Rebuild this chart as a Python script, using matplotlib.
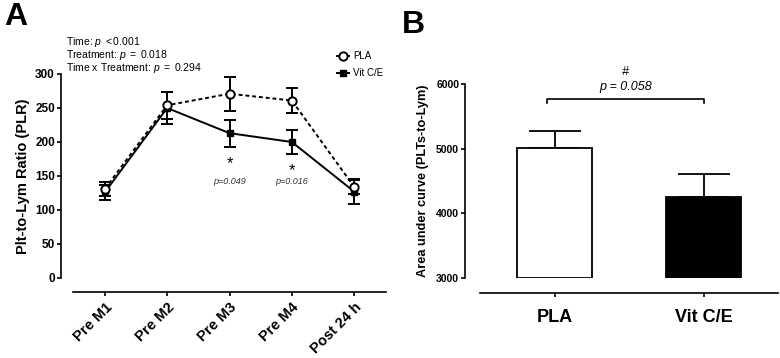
import matplotlib.pyplot as plt
from matplotlib.lines import Line2D

# Panel A data
timepoints = ['Pre M1', 'Pre M2', 'Pre M3', 'Pre M4', 'Post 24 h']
pla_mean = [131, 254, 271, 261, 134]
pla_err = [10, 20, 25, 18, 10]
vit_mean = [126, 250, 213, 200, 127]
vit_err = [11, 23, 20, 18, 18]

# Panel B data
groups = ['PLA', 'Vit C/E']
auc_mean = [5010, 4250]
auc_err = [270, 360]

plt.rcParams['font.family'] = ['Liberation Sans', 'DejaVu Sans']
plt.rcParams['mathtext.fontset'] = 'custom'
plt.rcParams['mathtext.rm'] = 'Liberation Sans'
plt.rcParams['mathtext.it'] = 'Liberation Sans:italic'

fig = plt.figure(figsize=(7.8, 3.58), dpi=100)

# ---- Panel A ----
axA = fig.add_axes([73 / 780, 1 - 278 / 358, (386 - 73) / 780, (278 - 74) / 358])
# spine offsets first: set_position resets the ticks
axA.spines['top'].set_visible(False)
axA.spines['right'].set_visible(False)
axA.spines['left'].set_position(('outward', 9))
axA.spines['bottom'].set_position(('outward', 10))
axA.spines['left'].set_linewidth(1.2)
axA.spines['bottom'].set_linewidth(1.2)

x = list(range(len(timepoints)))
axA.errorbar(x, pla_mean, yerr=pla_err, color='black', linestyle=(0, (2, 1.5)), lw=1.4,
             marker='o', markersize=6, markerfacecolor='white', markeredgewidth=1.4,
             capsize=4.5, elinewidth=1.4, capthick=1.4, zorder=3)
axA.errorbar(x, vit_mean, yerr=vit_err, color='black', linestyle='-', lw=1.4,
             marker='s', markersize=5, capsize=4.5, elinewidth=1.4, capthick=1.4,
             zorder=2)
axA.set_xlim(-0.51, 4.51)
axA.set_ylim(0, 300)
axA.tick_params(axis='y', length=3, width=1.2, pad=1)
axA.tick_params(axis='x', length=3, width=1.2, pad=3)
axA.set_yticks([0, 50, 100, 150, 200, 250, 300])
axA.set_yticklabels(['0', '50', '100', '150', '200', '250', '300'], fontsize=8.5, fontweight='bold')
axA.set_xticks(x)
axA.set_xticklabels(timepoints, rotation=45, ha='right', rotation_mode='anchor',
                    fontsize=10.5, fontweight='bold')
axA.set_ylabel('Plt-to-Lym Ratio (PLR)', fontsize=10.5, fontweight='bold', labelpad=4)

axA.text(2, 168, '*', ha='center', va='center', fontsize=12)
axA.text(3, 158, '*', ha='center', va='center', fontsize=12)
axA.text(2, 142, 'p=0.049', ha='center', va='center', fontsize=6.5, style='italic', color='#333333')
axA.text(3, 142, 'p=0.016', ha='center', va='center', fontsize=6.5, style='italic', color='#333333')

handles = [
    Line2D([], [], color='black', lw=1.4, marker='o', markersize=6,
           markerfacecolor='white', markeredgewidth=1.4),
    Line2D([], [], color='black', lw=1.4, marker='s', markersize=5),
]
axA.legend(handles, ['PLA', 'Vit C/E'], loc='upper left', bbox_to_anchor=(0.815, 1.155),
           frameon=False, fontsize=7, handlelength=1.2, handletextpad=0.5,
           labelspacing=0.75, numpoints=1)

fig.text(66 / 780, 1 - 42 / 358, r'Time: $\it{p\ <0.001}$', fontsize=7.5, va='center')
fig.text(66 / 780, 1 - 55 / 358, r'Treatment: $\it{p\ =\ 0.018}$', fontsize=7.5, va='center')
fig.text(66 / 780, 1 - 68 / 358, r'Time x Treatment: $\it{p\ =\ 0.294}$', fontsize=7.5, va='center')

fig.text(4 / 780, 1 - 17 / 358, 'A', fontsize=23, fontweight='bold', va='center')
fig.text(402 / 780, 1 - 25 / 358, 'B', fontsize=23, fontweight='bold', va='center')

# ---- Panel B ----
axB = fig.add_axes([480 / 780, 1 - 278 / 358, (778 - 480) / 780, (278 - 84) / 358])
axB.spines['top'].set_visible(False)
axB.spines['right'].set_visible(False)
axB.spines['left'].set_position(('outward', 11))
axB.spines['bottom'].set_position(('outward', 11))
axB.spines['left'].set_linewidth(1.2)
axB.spines['bottom'].set_linewidth(1.2)

xb = [0, 1]
base = 3000
heights = [m - base for m in auc_mean]
axB.bar(xb, heights, bottom=base, width=0.5, color=['white', 'black'],
        edgecolor='black', linewidth=1.3, zorder=2)
axB.errorbar(xb, auc_mean, yerr=[[0, 0], auc_err], fmt='none', ecolor='black',
             elinewidth=1.3, capsize=19, capthick=1.3, zorder=1)
axB.set_xlim(-0.5, 1.5)
axB.set_ylim(3000, 6000)
axB.tick_params(axis='y', length=3, width=1.2, pad=1)
axB.tick_params(axis='x', length=3, width=1.2, pad=8)
axB.set_yticks([3000, 4000, 5000, 6000])
axB.set_yticklabels(['3000', '4000', '5000', '6000'], fontsize=7.5, fontweight='bold')
axB.set_xticks(xb)
axB.set_xticklabels(groups, fontsize=13, fontweight='bold')
axB.set_ylabel('Area under curve (PLTs-to-Lym)', fontsize=9.2, fontweight='bold', labelpad=5)

# significance bracket
br_y = 5770
axB.plot([-0.05, -0.05, 1.0, 1.0], [br_y - 60, br_y, br_y, br_y - 60], color='black', lw=1.2,
         clip_on=False)
axB.text(0.475, br_y + 90, 'p = 0.058', ha='center', va='bottom', fontsize=9, style='italic')
axB.text(0.475, br_y + 320, '#', ha='center', va='bottom', fontsize=9, style='italic')

fig.savefig('out.png', dpi=100)
